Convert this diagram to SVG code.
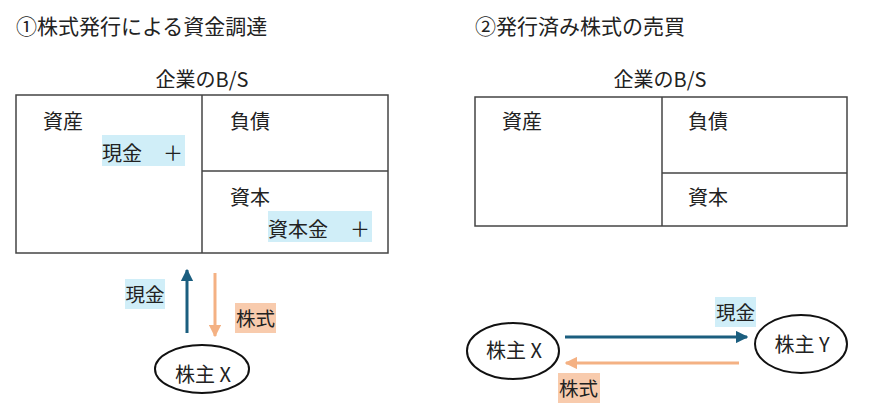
<svg xmlns="http://www.w3.org/2000/svg" width="882" height="419" viewBox="0 0 882 419">
<defs>
<style>
text{font-family:"Noto Sans CJK JP","Noto Sans CJK SC",sans-serif;font-size:20px;fill:#222;}
.title{font-size:21px;}
.sm{font-size:19.5px;}
.box{fill:none;stroke:#444;stroke-width:1.5;}
.div{stroke:#444;stroke-width:1.5;}
.cash{fill:#D0EEF8;}
.stock{fill:#F8CBAD;}
.node{fill:#fff;stroke:#111;stroke-width:2;}
.ac{stroke:#1B5E7F;stroke-width:3;fill:none;}
.as{stroke:#F4B183;stroke-width:3;fill:none;}
</style>
<marker id="mc" viewBox="0 0 10 10" refX="9" refY="5" markerWidth="4.2" markerHeight="4.2" orient="auto" markerUnits="strokeWidth"><path d="M0,0 L10,5 L0,10 z" fill="#1B5E7F"/></marker>
<marker id="ms" viewBox="0 0 10 10" refX="9" refY="5" markerWidth="4.2" markerHeight="4.2" orient="auto" markerUnits="strokeWidth"><path d="M0,0 L10,5 L0,10 z" fill="#F4B183"/></marker>
</defs>

<text class="title" x="16" y="34">①株式発行による資金調達</text>
<text class="title" x="475" y="34">②発行済み株式の売買</text>

<g id="bs1">
<text x="202" y="87" text-anchor="middle">企業のB/S</text>
<rect class="box" x="16" y="95" width="372" height="158"/>
<line class="div" x1="202" y1="95" x2="202" y2="253"/>
<line class="div" x1="202" y1="171" x2="388" y2="171"/>
<text x="43" y="129">資産</text>
<rect class="cash" x="102" y="135" width="83" height="31"/>
<text x="102" y="161">現金</text>
<text x="163" y="161">＋</text>
<text x="230" y="129">負債</text>
<text x="230" y="205">資本</text>
<rect class="cash" x="268" y="211" width="104" height="31"/>
<text x="268" y="237">資本金</text>
<text x="350" y="237">＋</text>
</g>

<g id="bs2">
<text x="660" y="87" text-anchor="middle">企業のB/S</text>
<rect class="box" x="475" y="97" width="372" height="129"/>
<line class="div" x1="662" y1="97" x2="662" y2="226"/>
<line class="div" x1="662" y1="173" x2="847" y2="173"/>
<text x="502" y="129">資産</text>
<text x="688" y="129">負債</text>
<text x="688" y="205">資本</text>
</g>

<g id="connectors">
<line class="ac" x1="187" y1="333" x2="187" y2="270" marker-end="url(#mc)"/>
<line class="as" x1="215" y1="273" x2="215" y2="336" marker-end="url(#ms)"/>
<line class="ac" x1="565" y1="337" x2="747" y2="337" marker-end="url(#mc)"/>
<line class="as" x1="739" y1="363" x2="566" y2="363" marker-end="url(#ms)"/>
</g>

<g id="labels">
<rect class="cash" x="125" y="279" width="40" height="30"/>
<text class="sm" x="125.5" y="302">現金</text>
<rect class="stock" x="235" y="303" width="41" height="30"/>
<text class="sm" x="236" y="326">株式</text>
<rect class="cash" x="715" y="297" width="41" height="30"/>
<text class="sm" x="716" y="320">現金</text>
<rect class="stock" x="558" y="373" width="42" height="30"/>
<text class="sm" x="559" y="396">株式</text>
</g>

<g id="x1">
<ellipse class="node" cx="202" cy="369" rx="47" ry="24"/>
<text x="203" y="382" text-anchor="middle">株主 X</text>
</g>
<g id="x2">
<ellipse class="node" cx="513" cy="351" rx="46" ry="28"/>
<text x="514" y="358" text-anchor="middle">株主 X</text>
</g>
<g id="y2">
<ellipse class="node" cx="801" cy="344" rx="46" ry="29"/>
<text x="802" y="352" text-anchor="middle">株主 Y</text>
</g>
</svg>
